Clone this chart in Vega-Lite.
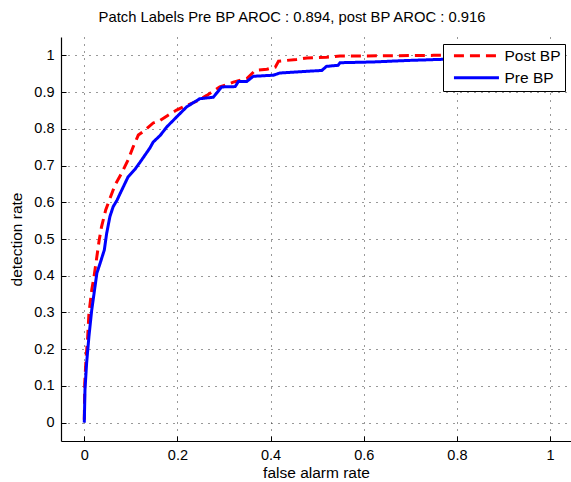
{
  "$schema": "https://vega.github.io/schema/vega-lite/v6.json",
  "autosize": "none",
  "width": 510,
  "height": 404,
  "padding": {"left": 61, "top": 37, "right": 0, "bottom": 41},
  "background": "white",
  "title": {"text": "Patch Labels Pre BP AROC : 0.894, post BP AROC : 0.916", "fontSize": 14.8, "fontWeight": "normal", "font": "Liberation Sans", "color": "black", "offset": 12, "dx": -24},
  "config": {"view": {"stroke": null}, "font": "Liberation Sans"},
  "data": {"values": [
    {"fa": 0, "det": 0.008, "s": "Post BP"},
    {"fa": 0.001, "det": 0.108, "s": "Post BP"},
    {"fa": 0.004, "det": 0.18, "s": "Post BP"},
    {"fa": 0.007, "det": 0.226, "s": "Post BP"},
    {"fa": 0.01, "det": 0.298, "s": "Post BP"},
    {"fa": 0.016, "det": 0.361, "s": "Post BP"},
    {"fa": 0.021, "det": 0.398, "s": "Post BP"},
    {"fa": 0.027, "det": 0.452, "s": "Post BP"},
    {"fa": 0.032, "det": 0.497, "s": "Post BP"},
    {"fa": 0.037, "det": 0.533, "s": "Post BP"},
    {"fa": 0.046, "det": 0.579, "s": "Post BP"},
    {"fa": 0.055, "det": 0.61, "s": "Post BP"},
    {"fa": 0.066, "det": 0.647, "s": "Post BP"},
    {"fa": 0.08, "det": 0.679, "s": "Post BP"},
    {"fa": 0.094, "det": 0.715, "s": "Post BP"},
    {"fa": 0.105, "det": 0.751, "s": "Post BP"},
    {"fa": 0.116, "det": 0.783, "s": "Post BP"},
    {"fa": 0.13, "det": 0.796, "s": "Post BP"},
    {"fa": 0.148, "det": 0.816, "s": "Post BP"},
    {"fa": 0.163, "det": 0.823, "s": "Post BP"},
    {"fa": 0.18, "det": 0.837, "s": "Post BP"},
    {"fa": 0.198, "det": 0.851, "s": "Post BP"},
    {"fa": 0.213, "det": 0.86, "s": "Post BP"},
    {"fa": 0.241, "det": 0.875, "s": "Post BP"},
    {"fa": 0.263, "det": 0.891, "s": "Post BP"},
    {"fa": 0.291, "det": 0.914, "s": "Post BP"},
    {"fa": 0.32, "det": 0.927, "s": "Post BP"},
    {"fa": 0.349, "det": 0.937, "s": "Post BP"},
    {"fa": 0.367, "det": 0.959, "s": "Post BP"},
    {"fa": 0.392, "det": 0.962, "s": "Post BP"},
    {"fa": 0.41, "det": 0.968, "s": "Post BP"},
    {"fa": 0.417, "det": 0.984, "s": "Post BP"},
    {"fa": 0.456, "det": 0.989, "s": "Post BP"},
    {"fa": 0.478, "det": 0.993, "s": "Post BP"},
    {"fa": 0.52, "det": 0.995, "s": "Post BP"},
    {"fa": 0.549, "det": 0.998, "s": "Post BP"},
    {"fa": 0.75, "det": 1, "s": "Post BP"},
    {"fa": 1, "det": 1, "s": "Post BP"},
    {"fa": 0, "det": 0, "s": "Pre BP"},
    {"fa": 0.0015, "det": 0.09, "s": "Pre BP"},
    {"fa": 0.005, "det": 0.162, "s": "Pre BP"},
    {"fa": 0.01, "det": 0.235, "s": "Pre BP"},
    {"fa": 0.016, "det": 0.307, "s": "Pre BP"},
    {"fa": 0.021, "det": 0.352, "s": "Pre BP"},
    {"fa": 0.027, "det": 0.407, "s": "Pre BP"},
    {"fa": 0.034, "det": 0.434, "s": "Pre BP"},
    {"fa": 0.043, "det": 0.47, "s": "Pre BP"},
    {"fa": 0.048, "det": 0.515, "s": "Pre BP"},
    {"fa": 0.055, "det": 0.561, "s": "Pre BP"},
    {"fa": 0.062, "det": 0.588, "s": "Pre BP"},
    {"fa": 0.07, "det": 0.605, "s": "Pre BP"},
    {"fa": 0.077, "det": 0.624, "s": "Pre BP"},
    {"fa": 0.094, "det": 0.669, "s": "Pre BP"},
    {"fa": 0.109, "det": 0.69, "s": "Pre BP"},
    {"fa": 0.123, "det": 0.715, "s": "Pre BP"},
    {"fa": 0.141, "det": 0.748, "s": "Pre BP"},
    {"fa": 0.148, "det": 0.764, "s": "Pre BP"},
    {"fa": 0.163, "det": 0.782, "s": "Pre BP"},
    {"fa": 0.177, "det": 0.805, "s": "Pre BP"},
    {"fa": 0.198, "det": 0.832, "s": "Pre BP"},
    {"fa": 0.22, "det": 0.86, "s": "Pre BP"},
    {"fa": 0.248, "det": 0.882, "s": "Pre BP"},
    {"fa": 0.277, "det": 0.886, "s": "Pre BP"},
    {"fa": 0.295, "det": 0.914, "s": "Pre BP"},
    {"fa": 0.324, "det": 0.915, "s": "Pre BP"},
    {"fa": 0.331, "det": 0.929, "s": "Pre BP"},
    {"fa": 0.349, "det": 0.929, "s": "Pre BP"},
    {"fa": 0.363, "det": 0.943, "s": "Pre BP"},
    {"fa": 0.406, "det": 0.946, "s": "Pre BP"},
    {"fa": 0.42, "det": 0.952, "s": "Pre BP"},
    {"fa": 0.51, "det": 0.959, "s": "Pre BP"},
    {"fa": 0.52, "det": 0.97, "s": "Pre BP"},
    {"fa": 0.545, "det": 0.973, "s": "Pre BP"},
    {"fa": 0.549, "det": 0.98, "s": "Pre BP"},
    {"fa": 0.62, "det": 0.982, "s": "Pre BP"},
    {"fa": 0.692, "det": 0.986, "s": "Pre BP"},
    {"fa": 0.764, "det": 0.989, "s": "Pre BP"},
    {"fa": 0.85, "det": 0.993, "s": "Pre BP"},
    {"fa": 0.95, "det": 0.997, "s": "Pre BP"},
    {"fa": 1, "det": 1, "s": "Pre BP"}
  ]},
  "mark": {"type": "line", "strokeWidth": 3, "interpolate": "linear"},
  "encoding": {
    "x": {"field": "fa", "type": "quantitative",
      "scale": {"domain": [-0.05, 1.045], "nice": false, "zero": false},
      "axis": {"title": "false alarm rate", "values": [0, 0.2, 0.4, 0.6, 0.8, 1], "format": "~g",
        "grid": true, "gridColor": "#333", "gridDash": [1, 6], "gridWidth": 1, "gridOpacity": 1,
        "ticks": true, "tickSize": -5, "tickColor": "black", "tickWidth": 1,
        "domainColor": "black", "domainWidth": 1.2,
        "labelFontSize": 14.5, "labelColor": "black", "labelPadding": 12, "labelFont": "Liberation Sans",
        "titleFontSize": 15.5, "titleFontWeight": "normal", "titleColor": "black", "titlePadding": 4, "titleFont": "Liberation Sans"}},
    "y": {"field": "det", "type": "quantitative",
      "scale": {"domain": [-0.05, 1.05], "nice": false, "zero": false},
      "axis": {"title": "detection rate", "values": [0, 0.1, 0.2, 0.3, 0.4, 0.5, 0.6, 0.7, 0.8, 0.9, 1], "format": "~g",
        "grid": true, "gridColor": "#333", "gridDash": [1, 6], "gridWidth": 1, "gridOpacity": 1,
        "ticks": true, "tickSize": -5, "tickColor": "black", "tickWidth": 1,
        "domainColor": "black", "domainWidth": 1.2,
        "labelFontSize": 14.5, "labelColor": "black", "labelPadding": 12, "labelFont": "Liberation Sans",
        "titleFontSize": 15.5, "titleFontWeight": "normal", "titleColor": "black", "titlePadding": 9, "titleFont": "Liberation Sans"}},
    "color": {"field": "s", "type": "nominal",
      "scale": {"domain": ["Post BP", "Pre BP"], "range": ["#ff0000", "#0000ff"]},
      "legend": {"title": null, "orient": "none", "legendX": 382, "legendY": 7,
        "symbolType": "M-4.5,0L4.5,0", "symbolSize": 100, "symbolStrokeWidth": 3, "symbolOffset": 21.7,
        "labelFontSize": 15.5, "labelColor": "black", "labelFont": "Liberation Sans", "labelOffset": 20.3,
        "strokeColor": "black", "fillColor": "white", "padding": 4, "rowPadding": 5}},
    "strokeDash": {"field": "s", "type": "nominal",
      "scale": {"domain": ["Post BP", "Pre BP"], "range": [[10, 6], [1, 0]]},
      "legend": {"title": null}},
    "order": {"field": "fa", "type": "quantitative"}
  }
}
